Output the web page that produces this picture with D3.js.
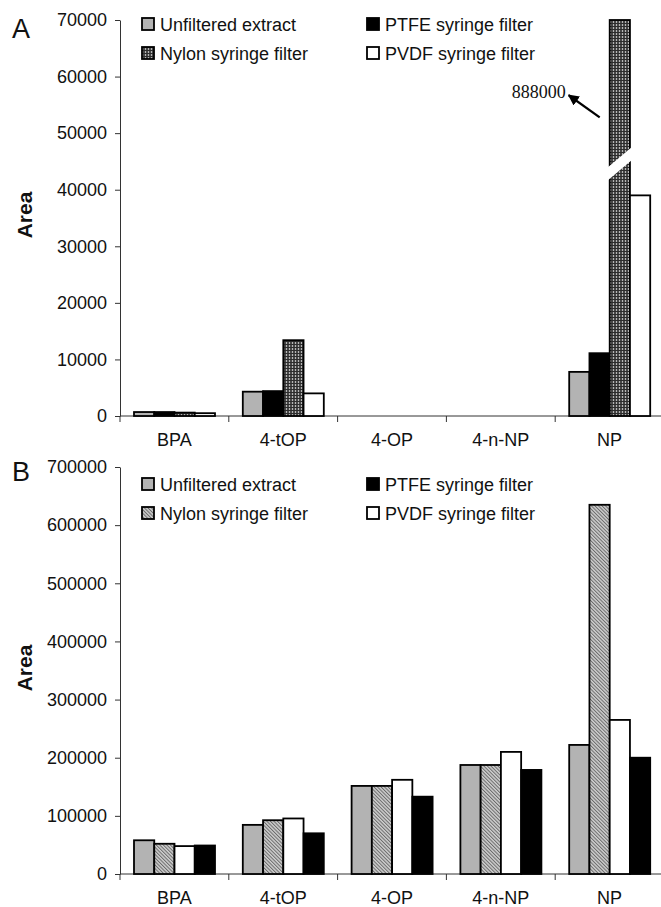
<!DOCTYPE html>
<html>
<head>
<meta charset="utf-8">
<script src="https://cdn.jsdelivr.net/npm/d3@7"></script>
<style>
body{margin:0;background:#fff}
svg{display:block;font-family:"Liberation Sans",Arial,sans-serif}
</style>
</head>
<body>
<svg id="chart" width="661" height="907"></svg>
<script>
const categories = ['BPA','4-tOP','4-OP','4-n-NP','NP'];

// panel A, bars drawn in this order
const seriesA = ['Unfiltered extract','PTFE syringe filter','Nylon syringe filter','PVDF syringe filter'];
const unfilteredA = [700, 4300, 0, 0, 7800];
const ptfeA = [700, 4400, 0, 0, 11100];
const nylonA = [600, 13400, 0, 0, 888000];
const pvdfA = [500, 4000, 0, 0, 39000];
const ticksA = [0,10000,20000,30000,40000,50000,60000,70000];
const breakA = 44600;

// panel B, bars drawn in this order
const seriesB = ['Unfiltered extract','Nylon syringe filter','PVDF syringe filter','PTFE syringe filter'];
const unfilteredB = [58000, 84500, 151500, 187500, 222000];
const nylonB = [52000, 92500, 151500, 187500, 635000];
const pvdfB = [48000, 95500, 162000, 210000, 265000];
const ptfeB = [49000, 70000, 133000, 179000, 200000];
const ticksB = [0,100000,200000,300000,400000,500000,600000,700000];

// legend, two columns, read row by row
const legendItems = ['Unfiltered extract','PTFE syringe filter','Nylon syringe filter','PVDF syringe filter'];

let svg = d3.select('#chart');
let defs = svg.append('defs');

// dark stipple used for nylon in A
let grid = defs.append('pattern').attr('id','nylonGrid')
  .attr('patternUnits','userSpaceOnUse').attr('width',3).attr('height',3);
grid.append('rect').attr('width',3).attr('height',3).attr('fill','#474747');
grid.append('rect').attr('x',1).attr('width',1).attr('height',3).attr('fill','#b5b5b5');
grid.append('rect').attr('y',2).attr('width',3).attr('height',1).attr('fill','#2c2c2c');

// fine diagonal hatch used for nylon in B
let hatch = defs.append('pattern').attr('id','nylonHatch')
  .attr('patternUnits','userSpaceOnUse').attr('width',2.5).attr('height',3)
  .attr('patternTransform','rotate(-45)');
hatch.append('rect').attr('width',2.5).attr('height',3).attr('fill','#cfcfcf');
hatch.append('rect').attr('width',1).attr('height',3).attr('fill','#6a6a6a');

defs.append('marker').attr('id','arrow')
  .attr('viewBox','0 0 10 10').attr('refX',9).attr('refY',5)
  .attr('markerWidth',5).attr('markerHeight',5).attr('orient','auto')
  .append('path').attr('d','M0,0L10,5L0,10z').attr('fill','#000');

const drawPanel = (p) => {
  let g = svg.append('g');
  let x = d3.scaleBand().domain(categories).range([120, 664]);
  let x1 = d3.scaleBand().domain(p.series).range([14, 95]);
  let yMax = d3.max(p.ticks);
  let y = d3.scaleLinear().domain([0, yMax]).range([p.bottom, p.top]);

  // y axis
  g.append('g').attr('transform','translate(120,0)')
    .call(d3.axisLeft(y).tickValues(p.ticks).tickSize(5).tickSizeOuter(0).tickPadding(8).tickFormat(d3.format('d')))
    .call(a => a.select('.domain').attr('stroke','#333'))
    .call(a => a.selectAll('.tick line').attr('stroke','#333'))
    .call(a => a.selectAll('.tick text').attr('font-size',18).attr('fill','#111')
      .attr('font-family','"Liberation Sans",Arial,sans-serif'));

  // x axis: line, ticks on category boundaries, labels centered
  g.append('line').attr('x1',120).attr('x2',661).attr('y1',y(0)).attr('y2',y(0)).attr('stroke','#333');
  let bounds = categories.map(c => x(c)).concat([x.range()[1]]);
  g.selectAll('.xtick').data(bounds).enter().append('line')
    .attr('x1',d => d).attr('x2',d => d).attr('y1',y(0)).attr('y2',y(0)+6).attr('stroke','#333');
  g.selectAll('.xlabel').data(categories).enter().append('text')
    .attr('x',d => x(d)+x.bandwidth()/2).attr('y',p.bottom+30)
    .attr('text-anchor','middle').attr('font-size',18).attr('fill','#111').text(d => d);

  // bars
  p.series.forEach((s,i) => {
    g.selectAll('.bar'+i).data(p.values[i].map((v,j) => ({cat:categories[j], v:v})))
      .enter().filter(d => d.v > 0).append('rect')
      .attr('x',d => x(d.cat)+x1(s))
      .attr('width',x1.bandwidth())
      .attr('y',d => y(Math.min(d.v,yMax)))
      .attr('height',d => y(0)-y(Math.min(d.v,yMax)))
      .attr('fill',p.fills[s]).attr('stroke','#000').attr('stroke-width',1.8);

    // broken bar for values above the axis
    p.values[i].forEach((v,j) => {
      if (v <= yMax || !p.breakAt) return;
      let bx = x(categories[j])+x1(s), w = x1.bandwidth();
      let xl = bx-3, xr = bx+w+2, xc = bx+w/2, yc = y(p.breakAt), k = 0.85, h = 6.5;
      let pts = [[xl, yc+k*(xc-xl)-h],[xr, yc-k*(xr-xc)-h],[xr, yc-k*(xr-xc)+h],[xl, yc+k*(xc-xl)+h]];
      g.append('polygon').attr('points',pts.map(q => q.join(',')).join(' ')).attr('fill','#fff');
      // arrow and true value
      g.append('line').attr('x1',bx-10).attr('y1',y(52800)).attr('x2',bx-41).attr('y2',y(56700))
        .attr('stroke','#000').attr('stroke-width',2.2).attr('marker-end','url(#arrow)');
      g.append('text').attr('x',bx-44).attr('y',y(56700)+3).attr('text-anchor','end')
        .attr('font-family','"Liberation Serif","Times New Roman",serif').attr('font-size',18)
        .attr('fill','#111').text(d3.format('d')(v));
    });
  });

  // legend
  legendItems.forEach((s,i) => {
    let lx = [142,367][i%2], ly = p.legendTop + Math.floor(i/2)*29;
    g.append('rect').attr('x',lx).attr('y',ly).attr('width',12).attr('height',12)
      .attr('fill',p.fills[s]).attr('stroke','#000').attr('stroke-width',1.8);
    g.append('text').attr('x',lx+18).attr('y',ly+12.5).attr('font-size',18).attr('fill','#111').text(s);
  });

  // panel letter and axis title
  g.append('text').attr('x',12).attr('y',p.letterY).attr('font-size',27).attr('fill','#111').text(p.letter);
  g.append('text').attr('transform','translate(32,'+p.titleY+') rotate(-90)')
    .attr('text-anchor','middle').attr('font-size',21).attr('font-weight','bold').attr('fill','#111').text('Area');
};

drawPanel({
  series: seriesA, values: [unfilteredA, ptfeA, nylonA, pvdfA], ticks: ticksA,
  top: 20, bottom: 416, breakAt: breakA, legendTop: 18, letter: 'A', letterY: 38, titleY: 215,
  fills: {'Unfiltered extract':'#b3b3b3','PTFE syringe filter':'#000','Nylon syringe filter':'url(#nylonGrid)','PVDF syringe filter':'#fff'}
});

drawPanel({
  series: seriesB, values: [unfilteredB, nylonB, pvdfB, ptfeB], ticks: ticksB,
  top: 467, bottom: 874, breakAt: null, legendTop: 478, letter: 'B', letterY: 481, titleY: 668,
  fills: {'Unfiltered extract':'#b3b3b3','PTFE syringe filter':'#000','Nylon syringe filter':'url(#nylonHatch)','PVDF syringe filter':'#fff'}
});
</script>
</body>
</html>
